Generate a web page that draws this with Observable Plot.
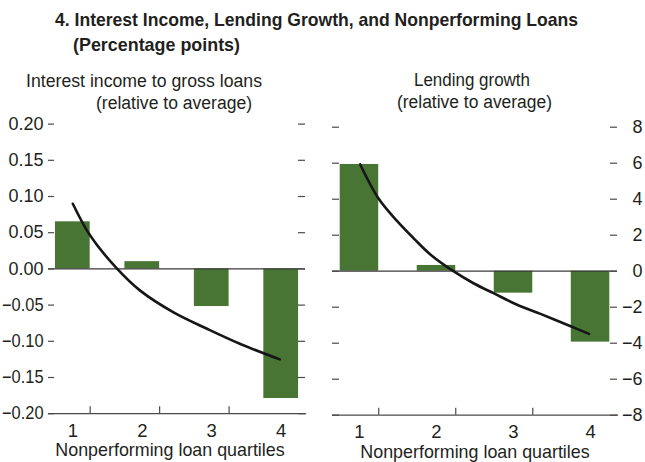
<!DOCTYPE html>
<html>
<head>
<meta charset="utf-8">
<script src="https://cdn.jsdelivr.net/npm/d3@7"></script>
<script src="https://cdn.jsdelivr.net/npm/@observablehq/plot@0.6"></script>
<style>
  html, body { margin: 0; padding: 0; background: #ffffff; }
  #chart { position: relative; width: 645px; height: 462px; overflow: hidden; background: #ffffff; }
  #chart svg { position: absolute; }
</style>
</head>
<body>
<div id="chart"></div>
<script>
// ---------------- data ----------------
const quartiles = [1, 2, 3, 4];
const interestIncome = [0.065, 0.010, -0.052, -0.179];
const lendingGrowth = [5.93, 0.32, -1.22, -3.94];

// fitted curves (x = quartile position, y = value)
const interestFitX = [1.00, 1.25, 1.64, 1.97, 2.45, 2.94, 3.42, 3.98];
const interestFitY = [0.090, 0.046, 0.000, -0.030, -0.060, -0.083, -0.104, -0.125];
const lendingFitX = [1.01, 1.25, 1.49, 1.71, 1.92, 2.22, 2.48, 2.74, 3.04, 3.35, 3.75, 3.98];
const lendingFitY = [5.93, 4.02, 2.78, 1.80, 0.93, 0.00, -0.67, -1.22, -1.85, -2.37, -3.07, -3.48];

const leftTicks = [0.20, 0.15, 0.10, 0.05, 0.00, -0.05, -0.10, -0.15, -0.20];
const rightTicks = [8, 6, 4, 2, 0, -2, -4, -6, -8];
const separatorTicks = [1.25, 2.25, 3.25];

const titleText = "4. Interest Income, Lending Growth, and Nonperforming Loans";
const subtitleText = "(Percentage points)";
const leftTitle = ["Interest income to gross loans", "(relative to average)"];
const rightTitle = ["Lending growth", "(relative to average)"];
const xLabel = "Nonperforming loan quartiles";

// ---------------- style ----------------
const green = "#487534";
const ink = "#231f20";
const lineGray = "#4a4a4a";
const fontFamily = "'Liberation Sans Narrow','Arial Narrow','Liberation Sans',Arial,sans-serif";

function panel(o) {
  const fw = o.width - o.marginLeft - o.marginRight;
  const fh = o.height - o.marginTop - o.marginBottom;
  const bars = quartiles.map((q, i) => ({q, v: o.values[i]}));
  const fit = o.fitX.map((x, i) => ({x, y: o.fitY[i]}));
  const svg = Plot.plot({
    width: o.width, height: o.height,
    marginLeft: o.marginLeft, marginRight: o.marginRight,
    marginTop: o.marginTop, marginBottom: o.marginBottom,
    style: {fontFamily, fontSize: "18px", color: ink, background: "transparent", overflow: "visible"},
    x: {domain: [0.65, 4.35]},
    y: {domain: [o.ticks[o.ticks.length - 1], o.ticks[0]]},
    marks: [
      Plot.rectY(bars, {x1: d => d.q - 0.25, x2: d => d.q + 0.25, y: "v", fill: green}),
      Plot.ruleY([0], {stroke: "#3a3a3a", strokeWidth: 1.2}),
      Plot.line(fit, {x: "x", y: "y", curve: "catmull-rom", stroke: "#161616", strokeWidth: 2.6}),
      Plot.frame({anchor: "bottom", stroke: lineGray, strokeWidth: 1.2}),
      Plot.ruleX(separatorTicks, {insetTop: fh - 7, stroke: lineGray, strokeWidth: 1.2}),
      Plot.ruleY(o.ticks, {insetRight: fw - o.leftTickLen, stroke: lineGray, strokeWidth: 1.2}),
      Plot.ruleY(o.ticks, {insetLeft: fw - 7, stroke: lineGray, strokeWidth: 1.2}),
      Plot.axisY(o.ticks, {anchor: o.labelSide, tickSize: 0, tickPadding: o.tickPadding,
        textAnchor: "end", tickFormat: o.fmt, label: null, fontSize: 18, fill: ink}),
      Plot.axisX(quartiles, {anchor: "bottom", tickSize: 0, tickPadding: 10, label: null,
        tickFormat: d => String(d), fontSize: 18.5, fill: ink}),
      Plot.text([xLabel], {frameAnchor: "bottom", lineAnchor: "top", dy: 29, dx: o.xLabelDx,
        fontSize: 19, fill: ink})
    ]
  });
  svg.style.left = o.left + "px";
  svg.style.top = o.top + "px";
  return svg;
}

// narrow the text to mimic the condensed face of the original
function squeeze(svg, label, factor, maxLen) {
  svg.querySelectorAll(`g[aria-label="${label}"] text`).forEach(t => {
    const len = t.getComputedTextLength();
    let target = len * factor;
    if (maxLen && target > maxLen) target = maxLen;
    t.setAttribute("textLength", target);
    t.setAttribute("lengthAdjust", "spacingAndGlyphs");
  });
}

const chart = document.getElementById("chart");

const left = panel({
  values: interestIncome, fitX: interestFitX, fitY: interestFitY, ticks: leftTicks,
  fmt: d3.format(".2f"), left: 0, top: 115, width: 322, height: 347,
  marginLeft: 48, marginRight: 17, marginTop: 8.6, marginBottom: 48.8,
  leftTickLen: 6, labelSide: "left", tickPadding: 5, xLabelDx: -7
});
chart.appendChild(left);

const right = panel({
  values: lendingGrowth, fitX: lendingFitX, fitY: lendingFitY, ticks: rightTicks,
  fmt: d3.format("d"), left: 322, top: 115, width: 323, height: 347,
  marginLeft: 10, marginRight: 28, marginTop: 11.7, marginBottom: 47.3,
  leftTickLen: 7, labelSide: "right", tickPadding: 25, xLabelDx: 0
});
chart.appendChild(right);

for (const svg of [left, right]) {
  squeeze(svg, "y-axis tick label", 1, 41.5);
  squeeze(svg, "text", 0.94);
}

// ---------------- titles ----------------
const overlay = d3.select(chart).append("svg")
  .attr("width", 645).attr("height", 462)
  .style("left", "0px").style("top", "0px")
  .style("font-family", fontFamily).style("pointer-events", "none");

const texts = [
  {t: titleText, x: 55, y: 26, w: 523, size: 18.5, weight: "bold"},
  {t: subtitleText, x: 73, y: 51, w: 167, size: 18.5, weight: "bold"},
  {t: leftTitle[0], x: 26, y: 87, w: 236, size: 18, weight: "normal"},
  {t: leftTitle[1], x: 96, y: 109, w: 156, size: 18, weight: "normal"},
  {t: rightTitle[0], x: 414, y: 86, w: 116, size: 18, weight: "normal"},
  {t: rightTitle[1], x: 397, y: 108, w: 155, size: 18, weight: "normal"}
];
overlay.selectAll("text").data(texts).join("text")
  .attr("x", d => d.x).attr("y", d => d.y)
  .attr("textLength", d => d.w).attr("lengthAdjust", "spacingAndGlyphs")
  .attr("font-size", d => d.size).attr("font-weight", d => d.weight)
  .attr("fill", ink)
  .text(d => d.t);
</script>
</body>
</html>
